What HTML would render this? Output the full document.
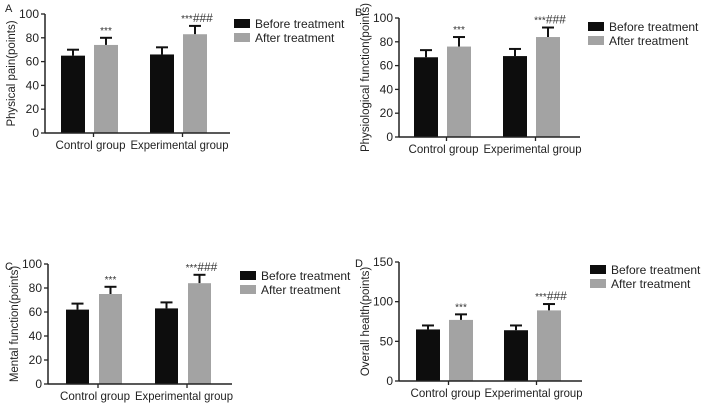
<!DOCTYPE html>
<html><head><meta charset="utf-8"><style>
html,body{margin:0;padding:0;background:#fff;}
svg{display:block;font-family:"Liberation Sans",sans-serif;}
</style></head><body>
<svg id="fig" width="701" height="409" viewBox="0 0 701 409"></svg>
<script>
const categories = ["Control group", "Experimental group"];
const seriesNames = ["Before treatment", "After treatment"];
const panelLetters = ["A", "B", "C", "D"];
const panelTitles = ["Physical pain(points)", "Physiological function(points)", "Mental function(points)", "Overall health(points)"];
const beforeA = [65, 66], afterA = [74, 83], beforeErrA = [5, 6], afterErrA = [6, 7];
const beforeB = [67, 68], afterB = [76, 84], beforeErrB = [6, 6], afterErrB = [8, 8];
const beforeC = [62, 63], afterC = [75, 84], beforeErrC = [5, 5], afterErrC = [6, 7];
const beforeD = [65, 64], afterD = [77, 89], beforeErrD = [5, 6], afterErrD = [7, 8];
const ticksABC = [0, 20, 40, 60, 80, 100];
const ticksD = [0, 50, 100, 150];

const NS = "http://www.w3.org/2000/svg";
const svg = document.getElementById("fig");
function mk(tag, attrs, parent, text) {
  const e = document.createElementNS(NS, tag);
  for (const k in attrs) e.setAttribute(k, attrs[k]);
  if (text !== undefined) e.textContent = text;
  (parent || svg).appendChild(e);
  return e;
}
const layouts = [
  {ax: 45, y0: 133, yTop: 14, xEnd: 230, g: [61, 150], bw: 24, gap: 33, leg: [234, 19], lab: [5, 12]},
  {ax: 399, y0: 137, yTop: 18, xEnd: 580, g: [414, 503], bw: 24, gap: 33, leg: [588, 22], lab: [355, 16]},
  {ax: 48, y0: 384, yTop: 264, xEnd: 232, g: [66, 155], bw: 23, gap: 33, leg: [240, 271], lab: [5, 270]},
  {ax: 399, y0: 381, yTop: 262, xEnd: 582, g: [416, 504], bw: 24, gap: 33, leg: [590, 265], lab: [355, 267]}
];
const befores = [beforeA, beforeB, beforeC, beforeD];
const afters = [afterA, afterB, afterC, afterD];
const bErr = [beforeErrA, beforeErrB, beforeErrC, beforeErrD];
const aErr = [afterErrA, afterErrB, afterErrC, afterErrD];
const tickSets = [ticksABC, ticksABC, ticksABC, ticksD];
const labOff = [-38, -52], labLen = [70, 98];

layouts.forEach((L, p) => {
  const g = mk("g", {});
  
  
  const ticks = tickSets[p];
  const maxV = ticks[ticks.length - 1];
  const y = v => L.y0 - (v / maxV) * (L.y0 - L.yTop);
  const lt = mk("text", {x: L.lab[0], y: L.lab[1], "font-size": 11, fill: "#222"}, g, panelLetters[p]);
  
  
  for (let i = 0; i < categories.length; i++) {
    const vals = [befores[p][i], afters[p][i]];
    const errs = [bErr[p][i], aErr[p][i]];
    for (let s = 0; s < 2; s++) {
      const x = L.g[i] + s * L.gap;
      const cx = x + L.bw / 2;
      const ey = y(vals[s] + errs[s]);
      const el = mk("line", {x1: cx, x2: cx, y1: y(vals[s]), y2: ey, stroke: "#111", "stroke-width": 2}, g);
      
      
      const cap = mk("line", {x1: cx - 6, x2: cx + 6, y1: ey, y2: ey, stroke: "#111", "stroke-width": 2}, g);
      
      
      const r = mk("rect", {x: x, y: y(vals[s]), width: L.bw, height: L.y0 - y(vals[s]), fill: s ? "#a3a3a3" : "#0d0d0d"}, g);
      
      
      if (s === 1) {
        const m = mk("text", {x: i ? cx + 2 : cx, y: ey - 4, "font-size": 10, "text-anchor": "middle", fill: "#333"}, g);
        
        
        mk("tspan", {}, m, "***");
        if (i) mk("tspan", {"font-size": 12}, m, "###");
      }
    }
    const tx = L.g[i] + (L.gap + L.bw) / 2 + 4;
    const tk = mk("line", {x1: tx, x2: tx, y1: L.y0, y2: L.y0 + 4, stroke: "#222", "stroke-width": 1.3}, g);
    
    
    const ct = mk("text", {x: tx + labOff[i], y: L.y0 + 16, "font-size": 12, textLength: labLen[i], lengthAdjust: "spacingAndGlyphs", fill: "#222"}, g, categories[i]);
    
    
  }
  const ya = mk("line", {x1: L.ax, x2: L.ax, y1: L.yTop, y2: L.y0, stroke: "#222", "stroke-width": 1.5}, g);
  
  
  const xa = mk("line", {x1: L.ax, x2: L.xEnd, y1: L.y0, y2: L.y0, stroke: "#222", "stroke-width": 1.5}, g);
  
  
  ticks.forEach(t => {
    const tl = mk("line", {x1: L.ax - 4, x2: L.ax, y1: y(t), y2: y(t), stroke: "#222", "stroke-width": 1.3}, g);
    
    
    const tt = mk("text", {x: L.ax - 6, y: y(t) + 4, "font-size": 12, "text-anchor": "end", fill: "#222"}, g, t);
    
    
  });
  const cy = (L.y0 + L.yTop) / 2;
  const yt = mk("text", {x: L.ax - 30, y: cy, "font-size": 11.5, "text-anchor": "middle", fill: "#222", transform: `rotate(-90 ${L.ax - 30} ${cy})`}, g, panelTitles[p]);
  
  
  seriesNames.forEach((n, s) => {
    const ly = L.leg[1] + s * 14;
    const sw = mk("rect", {x: L.leg[0], y: ly, width: 16, height: 9, fill: s ? "#a3a3a3" : "#0d0d0d"}, g);
    
    
    const lt2 = mk("text", {x: L.leg[0] + 21, y: ly + 9, "font-size": 12, fill: "#222"}, g, n);
    
    
  });
});
</script>
</body></html>
